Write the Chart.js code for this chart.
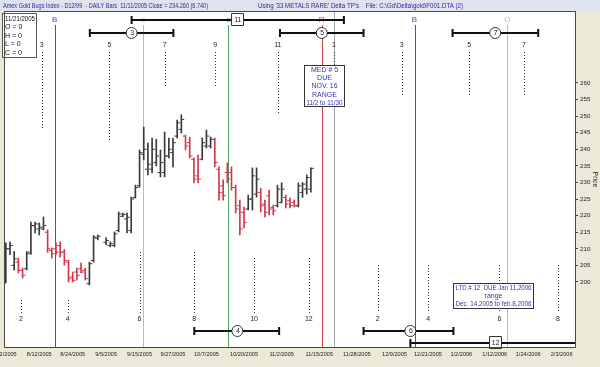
<!DOCTYPE html>
<html>
<head>
<meta charset="utf-8">
<title>Amex Gold Bugs Index - Delta TP's</title>
<script src="https://cdn.jsdelivr.net/npm/chart.js@4.4.1/dist/chart.umd.min.js"></script>
<style>
  html, body { margin: 0; padding: 0; background: #ece9d8; }
  #wrap { width: 600px; height: 367px; }
</style>
</head>
<body>
<div id="wrap"><canvas id="chart" width="600" height="367"></canvas></div>
<script>
// Daily bars, one slot per weekday. Slot 0 = 8/2/2005, slot 23 (9/5 holiday) empty.
const opens  = [203, 210, 205, 206, 203.5, 204, 209, 217, 216, 216, 215, 209.5, 210, 211, 209, 206, 201.5, 203, 204, 203.5,
                199.5, 206.5, 213.2, null, 212, 211, 211, 215.5, 219.8, 219, 215.5, 225.5, 229, 238.5, 234, 234, 236, 233, 233, 238,
                239, 244, 246, 244, 242, 237, 232, 237, 241, 241, 243, 234, 229, 233, 233, 228.5, 223, 221, 222, 225,
                226.5, 227, 223.5, 226, 222.5, 223, 224, 225.5, 224.5, 224, 223, 227, 228, 228];
const highs  = [211.8, 212, 209.2, 207.2, 204.2, 209.2, 218.1, 218.1, 217.8, 219.6, 215.7, 210.3, 211.8, 212.1, 209.8, 206.6, 203, 204.2, 205.7, 204.2,
                206, 214, 214.2, null, 213.3, 212.1, 215.1, 221.1, 220.8, 220.8, 225.6, 229.2, 239.8, 246.7, 241.9, 243.4, 243, 239.8, 245.2, 243.4,
                243.4, 248.8, 250.4, 244.3, 243.7, 237.4, 238.3, 243.4, 245.8, 243.7, 243.4, 234.7, 230.8, 235.9, 234.7, 229.2, 224.7, 222.6, 226.2, 234.4,
                234.4, 228.3, 224.7, 227.7, 223.2, 229.2, 229.9, 226.2, 225.3, 224.7, 229.9, 230, 232.3, 234.4];
const lows   = [199.7, 208.2, 203.6, 202.7, 201.2, 203.6, 208.3, 214.8, 214.2, 215.7, 208.9, 207.2, 208.3, 207.5, 205.1, 200, 200, 200.6, 202.7, 200.6,
                199.1, 206, 212.7, null, 211.2, 210.6, 210.6, 215.1, 219.6, 214.8, 214.8, 225.3, 228.6, 236.8, 232.3, 232.9, 235, 231.7, 231.7, 237.4,
                234.7, 243.4, 244.9, 239.8, 237.4, 229.9, 229.9, 236.8, 240.4, 240.4, 234.7, 224.7, 224.7, 229.9, 227.7, 220.8, 214.2, 216.3, 221.7, 221.7,
                225.6, 221.1, 219.6, 220.2, 220.2, 222.6, 223.8, 222.3, 222.3, 222.6, 222.6, 225.5, 226.5, 227.1];
const closes = [210, 211, 207, 203.5, 202, 208.5, 217, 217.5, 216.5, 217, 210, 208.5, 209, 209, 206.5, 201, 200.5, 202, 203, 201,
                205.5, 213.5, 213.8, null, 212.5, 211.5, 214.5, 220.5, 220.4, 219.5, 225, 228.5, 239, 240, 235.5, 240, 238, 236, 238, 240,
                242, 248, 249, 241, 238, 231, 231, 242, 244, 243, 236, 227, 226, 231, 228.5, 222, 216, 218, 225, 232,
                231, 223, 221, 222, 221.5, 228, 228, 223.5, 223, 223, 229, 229.5, 231.5, 234.26];

const dateTickIdx = [0, 8, 16, 24, 32, 40, 48, 57, 66, 75, 84, 93, 101, 109, 117, 125, 133];
const dateTickLabels = ['8/2/2005', '8/12/2005', '8/24/2005', '9/5/2005', '9/15/2005', '9/27/2005', '10/7/2005', '10/20/2005',
                        '11/2/2005', '11/15/2005', '11/28/2005', '12/9/2005', '12/21/2005', '1/2/2006', '1/12/2006', '1/24/2006', '2/3/2006'];
const priceTicks = [200, 205, 210, 215, 220, 225, 230, 235, 240, 245, 250, 255, 260];

// Delta turning points (slot positions)
const turnLines = [
    { at: 11.7, label: 'B', color: '#4b4bc6' },
    { at: 32.9, label: 'o', color: '#e6b45a' },
    { at: 53.2, label: 'o', color: '#4f9f5f' },
    { at: 75.6, label: 'R', color: '#cc4040' },
    { at: 78.5, label: '', color: '#a8a8a8' },
    { at: 97.8, label: 'B', color: '#4b4bc6' },
    { at: 120.0, label: 'O', color: '#e6b45a' }
];
// cycle ranges: row 0/1 on top, 2/3 at bottom
const cycleRanges = [
    { from: 30.1, to: 80.9, at: 55.4, label: '11', row: 0, box: true },
    { from: 20.1, to: 40.1, at: 30.1, label: '3', row: 1 },
    { from: 65.6, to: 85.6, at: 75.6, label: '5', row: 1 },
    { from: 106.9, to: 127.4, at: 117.1, label: '7', row: 1 },
    { from: 45.1, to: 65.4, at: 55.4, label: '4', row: 2 },
    { from: 85.6, to: 107.1, at: 96.8, label: '6', row: 2 },
    { from: 96.8, to: 137, at: 117.1, label: '12', row: 3, box: true }
];
const topMarks = [
    { at: 8.6, label: '3', end: 130 }, { at: 24.8, label: '5', end: 142 }, { at: 38, label: '7', end: 87 },
    { at: 50.1, label: '9', end: 88 }, { at: 65.1, label: '11', end: 113 }, { at: 78.5, label: '1', end: 100 },
    { at: 94.7, label: '3', end: 97 }, { at: 110.9, label: '5', end: 97 }, { at: 124, label: '7', end: 97 }
];
const bottomMarks = [
    { at: 3.6, label: '2', start: 300 }, { at: 14.8, label: '4', start: 300 }, { at: 32, label: '6', start: 252 },
    { at: 45.1, label: '8', start: 252 }, { at: 59.4, label: '10', start: 258 }, { at: 72.5, label: '12', start: 258 },
    { at: 89, label: '2', start: 265 }, { at: 101.1, label: '4', start: 265 }, { at: 118.1, label: '6', start: 265 },
    { at: 132.1, label: '8', start: 265 }
];

const UP = '#3a3a3a';
const DOWN = '#d2364c';
const FONT = "'Liberation Sans', Arial, sans-serif";

const barColors = closes.map((c, i) => (c == null ? UP : (c >= opens[i] ? UP : DOWN)));
const idx = closes.map((c, i) => i).filter(i => closes[i] != null);

function txt(ctx, s, x, y, opts = {}) {
    ctx.font = (opts.size || 7) + 'px ' + FONT;
    ctx.fillStyle = opts.color || '#222';
    ctx.textAlign = opts.align || 'center';
    ctx.textBaseline = 'middle';
    if (opts.maxWidth) ctx.fillText(s, x, y, opts.maxWidth);
    else ctx.fillText(s, x, y);
}

const decor = {
    id: 'decor',
    beforeDraw(chart) {
        const { ctx, chartArea: a, width, height } = chart;
        ctx.save();
        ctx.fillStyle = '#ece9d8';
        ctx.fillRect(0, 0, width, height);
        ctx.fillStyle = '#dfe3ee';
        ctx.fillRect(0, 0, width, 11);
        ctx.fillStyle = '#ffffff';
        ctx.fillRect(a.left, a.top, a.right - a.left, a.bottom - a.top);
        txt(ctx, 'Amex Gold Bugs Index - D12/99  - DAILY Bars  11/11/2005 Close = 234.260 (6.740)', 3, 6,
            { align: 'left', color: '#2a2a96', maxWidth: 205 });
        txt(ctx, "Using '33 METALS RARE' Delta TP's    File: C:\\Gd\\Delta\\gold\\F001.DTA (2)", 258, 6,
            { align: 'left', color: '#2a2a96', maxWidth: 205 });
        ctx.restore();
    },
    beforeDatasetsDraw(chart) {
        const { ctx, chartArea: a, scales: { x } } = chart;
        ctx.save();
        // turning point lines
        turnLines.forEach(t => {
            const px = Math.round(x.getPixelForValue(t.at)) + 0.5;
            ctx.strokeStyle = t.color;
            ctx.lineWidth = 1;
            ctx.beginPath();
            ctx.moveTo(px, t.label ? a.top + 13 : a.top);
            ctx.lineTo(px, a.bottom);
            ctx.stroke();
        });
        // dotted cycle markers
        ctx.strokeStyle = '#333';
        ctx.setLineDash([1, 2]);
        topMarks.forEach(m => {
            const px = Math.round(x.getPixelForValue(m.at)) + 0.5;
            ctx.beginPath();
            ctx.moveTo(px, 52);
            ctx.lineTo(px, m.end);
            ctx.stroke();
        });
        bottomMarks.forEach(m => {
            const px = Math.round(x.getPixelForValue(m.at)) + 0.5;
            ctx.beginPath();
            ctx.moveTo(px, m.start);
            ctx.lineTo(px, 313);
            ctx.stroke();
        });
        ctx.setLineDash([]);
        topMarks.forEach(m => txt(ctx, m.label, x.getPixelForValue(m.at), 45));
        bottomMarks.forEach(m => txt(ctx, m.label, x.getPixelForValue(m.at), 319));
        ctx.restore();
    },
    afterDatasetsDraw(chart) {
        const { ctx, chartArea: a, scales: { x } } = chart;
        const rowY = [20, 33, 331, 343];
        ctx.save();
        turnLines.forEach(t => {
            if (t.label) txt(ctx, t.label, x.getPixelForValue(t.at), 20, { color: t.color, size: 8 });
        });
        // cycle ranges
        cycleRanges.forEach(r => {
            const y = rowY[r.row];
            const x1 = x.getPixelForValue(r.from);
            const x2 = Math.min(x.getPixelForValue(r.to), a.right);
            ctx.strokeStyle = '#111';
            ctx.lineWidth = 2;
            ctx.beginPath();
            ctx.moveTo(x1, y);
            ctx.lineTo(x2, y);
            ctx.moveTo(x1, y - 4);
            ctx.lineTo(x1, y + 4);
            if (x2 < a.right) {
                ctx.moveTo(x2, y - 4);
                ctx.lineTo(x2, y + 4);
            }
            ctx.stroke();
            const cx = x.getPixelForValue(r.at);
            ctx.lineWidth = 1;
            ctx.fillStyle = '#fff';
            ctx.strokeStyle = '#333';
            ctx.beginPath();
            if (r.box) ctx.rect(Math.round(cx) - 5.5, y - 6.5, 12, 12);
            else ctx.arc(cx, y, 5.5, 0, Math.PI * 2);
            ctx.fill();
            ctx.stroke();
            txt(ctx, r.label, cx + 0.5, y + 0.5, { size: 7 });
        });
        // legend box
        ctx.fillStyle = '#fff';
        ctx.fillRect(2.5, 13.5, 34, 44);
        ctx.strokeStyle = '#555';
        ctx.lineWidth = 1;
        ctx.strokeRect(2.5, 13.5, 34, 44);
        ['11/21/2005', 'O = 0', 'H = 0', 'L = 0', 'C = 0'].forEach((s, k) =>
            txt(ctx, s, 5, 19 + k * 8.5, { align: 'left', color: '#111', maxWidth: 30 }));
        // note boxes
        const note = (at, w, top, h, lines) => {
            const cx = x.getPixelForValue(at);
            const left = Math.round(cx - w / 2) + 0.5;
            ctx.fillStyle = '#fff';
            ctx.fillRect(left, top + 0.5, w, h);
            ctx.strokeStyle = '#333';
            ctx.strokeRect(left, top + 0.5, w, h);
            lines.forEach((s, k) => txt(ctx, s, left + w / 2, top + 5 + k * 8.2, { color: '#3434b4', maxWidth: w - 4 }));
        };
        note(76.1, 40, 65, 41, ['MED # 5', 'DUE', 'NOV. 16', 'RANGE', '11/2 to 11/30']);
        note(116.6, 80, 283, 25, ['LTD # 12  DUE Jan 11,2006', 'range', 'Dec. 14,2005 to feb.8,2006']);
        // plot frame
        ctx.strokeStyle = '#4a4a4a';
        ctx.strokeRect(a.left - 0.5, a.top - 0.5, a.right - a.left + 1, a.bottom - a.top + 1);
        ctx.restore();
    }
};

new Chart(document.getElementById('chart'), {
    type: 'bar',
    data: {
        datasets: [
            {
                label: 'High-Low',
                data: idx.map(i => ({ x: i, y: [lows[i], highs[i]] })),
                backgroundColor: idx.map(i => barColors[i]),
                barThickness: 1,
                borderWidth: 0,
                grouped: false
            },
            {
                type: 'scatter',
                label: 'Open',
                data: idx.map(i => ({ x: i - 0.35, y: opens[i] })),
                pointStyle: 'line',
                radius: 1.4,
                borderWidth: 1,
                borderColor: idx.map(i => barColors[i])
            },
            {
                type: 'scatter',
                label: 'Close',
                data: idx.map(i => ({ x: i + 0.35, y: closes[i] })),
                pointStyle: 'line',
                radius: 1.4,
                borderWidth: 1,
                borderColor: idx.map(i => barColors[i])
            }
        ]
    },
    options: {
        responsive: false,
        animation: false,
        events: [],
        layout: { padding: { left: 3, top: 12, right: 0, bottom: 0 } },
        plugins: { legend: { display: false }, tooltip: { enabled: false } },
        scales: {
            x: {
                type: 'linear',
                offset: false,
                min: -0.2,
                max: 136.2,
                grid: { display: false, drawTicks: false, offset: false },
                border: { color: '#444' },
                afterBuildTicks: s => { s.ticks = dateTickIdx.map(v => ({ value: v })); },
                afterFit: s => { s.height = 20; s.paddingLeft = 0; s.paddingRight = 0; },
                ticks: {
                    autoSkip: false,
                    maxRotation: 0,
                    padding: 4,
                    color: '#222',
                    font: { family: FONT, size: 5.6 },
                    callback: v => dateTickLabels[dateTickIdx.indexOf(v)]
                }
            },
            y: {
                position: 'right',
                min: 180.4,
                max: 281.4,
                grid: { drawOnChartArea: false, tickLength: 3, color: '#444' },
                border: { color: '#444' },
                afterBuildTicks: s => { s.ticks = priceTicks.map(v => ({ value: v })); },
                afterFit: s => { s.width = 25; },
                ticks: { padding: 2, color: '#222', font: { family: FONT, size: 6.2 } },
                title: { display: true, text: 'Price', color: '#222', padding: 1, font: { family: FONT, size: 7 } }
            }
        }
    },
    plugins: [decor]
});
</script>
</body>
</html>
